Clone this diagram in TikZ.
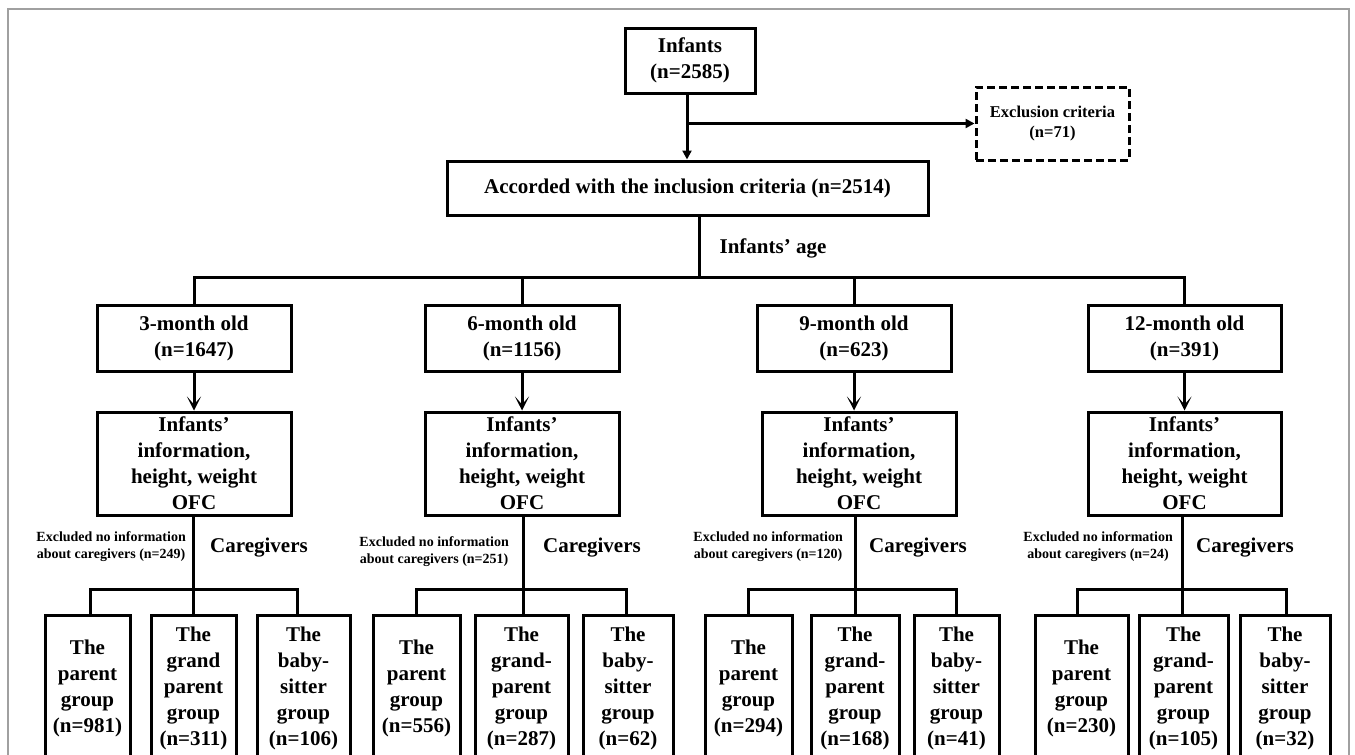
\documentclass[tikz,border=0pt]{standalone}
\usepackage{fontspec}
\setmainfont{Liberation Serif}
\usetikzlibrary{arrows.meta}
\begin{document}
\begin{tikzpicture}[x=1pt,y=-1pt,
  box/.style={draw, line width=3pt, align=center, inner sep=0pt, font=\bfseries\fontsize{21}{26}\selectfont},
  gbox/.style={box, minimum height=146, anchor=north},
  lbl/.style={inner sep=0pt, font=\bfseries\fontsize{21}{26}\selectfont},
  small/.style={inner sep=0pt, align=center, font=\bfseries\fontsize{14}{17}\selectfont},
  conn/.style={line width=3pt},
  tri/.style={conn, -{Triangle[length=9pt,width=9pt]}},
  barb/.style={conn, -{Stealth[length=14pt,width=14pt,inset=8pt]}},
]
\useasboundingbox (0,0) rectangle (1355,755);
\clip (0,0) rectangle (1355,755);
\fill[white] (0,0) rectangle (1355,755);
\draw[color={rgb,255:red,160;green,160;blue,160}, line width=1.2pt] (8,780) -- (8,9) -- (1349,9) -- (1349,780);

% top
\node[box, minimum width=130, minimum height=65] (inf) at (690,60.5) {Infants\\(n=2585)};
\node[box, dash pattern=on 8pt off 4pt, minimum width=153, minimum height=73, font=\bfseries\fontsize{16.5}{20}\selectfont] (exc) at (1052.5,123.5) {Exclusion criteria\\(n=71)};
\node[box, minimum width=481, minimum height=54] (acc) at (687.5,188) {Accorded with the inclusion criteria (n=2514)};
\coordinate (brx) at (687,123);
\draw[tri] (inf.south -| brx) -- (acc.north -| brx);
\draw[tri] (brx |- exc.west) -- (exc.west);
\node[lbl] (agelbl) at (773,248) {Infants’ age};

% age boxes
\node[box, minimum width=194, minimum height=66] (age3) at (194,338) {3-month old\\(n=1647)};
\node[box, minimum width=194, minimum height=66] (age6) at (522,338) {6-month old\\(n=1156)};
\node[box, minimum width=194, minimum height=66] (age9) at (854,338) {9-month old\\(n=623)};
\node[box, minimum width=193, minimum height=66] (age12) at (1184.5,338) {12-month old\\(n=391)};
\coordinate (agebar) at (699,277);
\draw[conn] (acc.south -| agebar) -- (agebar);
\draw[conn] (age3.north) |- (agebar) -| (age12.north);
\draw[conn] (age6.north) -- (age6.north |- agebar);
\draw[conn] (age9.north) -- (age9.north |- agebar);

% info boxes
\node[box, minimum width=194, minimum height=103] (info3) at (194,463.5) {Infants’\\information,\\height, weight\\OFC};
\node[box, minimum width=194, minimum height=103] (info6) at (522,463.5) {Infants’\\information,\\height, weight\\OFC};
\node[box, minimum width=194, minimum height=103] (info9) at (859,463.5) {Infants’\\information,\\height, weight\\OFC};
\node[box, minimum width=193, minimum height=103] (info12) at (1184.5,463.5) {Infants’\\information,\\height, weight\\OFC};
\draw[barb] (age3.south) -- (age3.south |- info3.north);
\draw[barb] (age6.south) -- (age6.south |- info6.north);
\draw[barb] (age9.south) -- (age9.south |- info9.north);
\draw[barb] (age12.south) -- (age12.south |- info12.north);

% caregiver labels
\node[small, anchor=east] (ex3) at (186,546.5) {Excluded no information\\about caregivers (n=249)};
\node[small, anchor=east] (ex6) at (509,552) {Excluded no information\\about caregivers (n=251)};
\node[small, anchor=east] (ex9) at (843,547) {Excluded no information\\about caregivers (n=120)};
\node[small, anchor=east] (ex12) at (1173,547) {Excluded no information\\about caregivers (n=24)};
\node[lbl, anchor=west] (cg3) at (210,548) {Caregivers};
\node[lbl, anchor=west] (cg6) at (543,548) {Caregivers};
\node[lbl, anchor=west] (cg9) at (869,548) {Caregivers};
\node[lbl, anchor=west] (cg12) at (1196,548) {Caregivers};

% group boxes
\node[gbox, minimum width=85] (ga3) at (87.5,614) {The\\parent\\group\\(n=981)};
\node[gbox, minimum width=85] (gb3) at (193.5,614) {The\\grand\\parent\\group\\(n=311)};
\node[gbox, minimum width=93] (gc3) at (303.5,614) {The\\baby-\\sitter\\group\\(n=106)};
\node[gbox, minimum width=87] (ga6) at (416.5,614) {The\\parent\\group\\(n=556)};
\node[gbox, minimum width=93] (gb6) at (521.5,614) {The\\grand-\\parent\\group\\(n=287)};
\node[gbox, minimum width=90] (gc6) at (628,614) {The\\baby-\\sitter\\group\\(n=62)};
\node[gbox, minimum width=87] (ga9) at (748.5,614) {The\\parent\\group\\(n=294)};
\node[gbox, minimum width=88] (gb9) at (855,614) {The\\grand-\\parent\\group\\(n=168)};
\node[gbox, minimum width=85] (gc9) at (956.5,614) {The\\baby-\\sitter\\group\\(n=41)};
\node[gbox, minimum width=93] (ga12) at (1081.5,614) {The\\parent\\group\\(n=230)};
\node[gbox, minimum width=89] (gb12) at (1183.5,614) {The\\grand-\\parent\\group\\(n=105)};
\node[gbox, minimum width=90] (gc12) at (1285,614) {The\\baby-\\sitter\\group\\(n=32)};

\coordinate (j3) at (193,589);
\coordinate (j6) at (523,589);
\coordinate (j9) at (855,589);
\coordinate (j12) at (1182,589);
\draw[conn] (info3.south -| j3) -- (j3);
\draw[conn] (info6.south -| j6) -- (j6);
\draw[conn] (info9.south -| j9) -- (j9);
\draw[conn] (info12.south -| j12) -- (j12);
\draw[conn] ([xshift=2.5pt]ga3.north) |- (j3) -| ([xshift=-6.5pt]gc3.north);
\draw[conn] (j3) -- (j3 |- gb3.north);
\draw[conn] (ga6.north) |- (j6) -| (gc6.north -| 626,0);
\draw[conn] (j6) -- (j6 |- gb6.north);
\draw[conn] (ga9.north) |- (j9) -| (gc9.north);
\draw[conn] (j9) -- (j9 |- gb9.north);
\draw[conn] ([xshift=-4.5pt]ga12.north) |- (j12) -| ([xshift=1pt]gc12.north);
\draw[conn] (j12) -- (j12 |- gb12.north);
\end{tikzpicture}
\end{document}
